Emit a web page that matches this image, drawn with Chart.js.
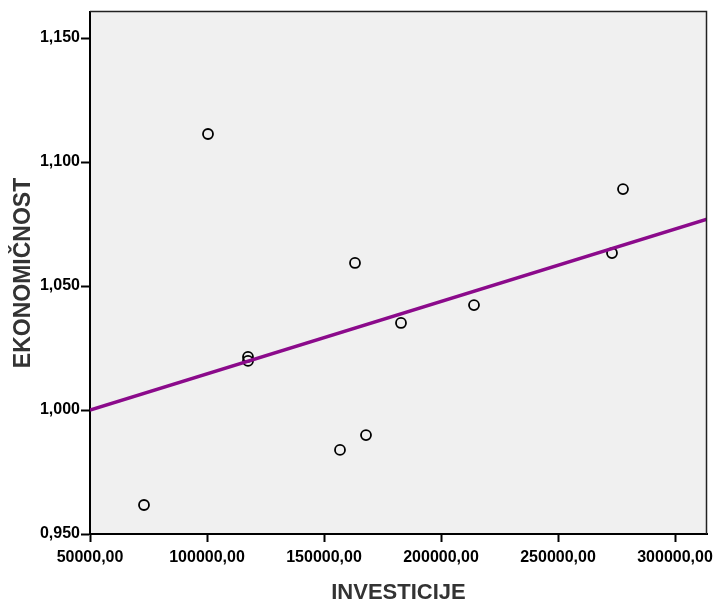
<!DOCTYPE html>
<html>
<head>
<meta charset="utf-8">
<script src="https://cdn.jsdelivr.net/npm/chart.js@4.4.0/dist/chart.umd.min.js"></script>
<style>
  html, body { margin: 0; padding: 0; background: #fff; }
  #wrap { width: 717px; height: 600px; }
</style>
</head>
<body>
<div id="wrap"><canvas id="chart"></canvas></div>
<script>
// values
const investicije = [73077, 100427, 117521, 117521, 156838, 163248, 167949, 182906, 214103, 273077, 277778];
const ekonomicnost = [0.9617, 1.1113, 1.0214, 1.0198, 0.9839, 1.0593, 0.9899, 1.0351, 1.0423, 1.0633, 1.0891];
// fit line ends as seen in the reference
const fitX = [50000, 313675];
const fitY = [1.000, 1.077];
const xTicks = [50000, 100000, 150000, 200000, 250000, 300000];
const yTicks = [0.95, 1.00, 1.05, 1.10, 1.15];

const points = investicije.map((x, i) => ({x: x, y: ekonomicnost[i]}));
const fitLine = fitX.map((x, i) => ({x: x, y: fitY[i]}));

const frame = {
  id: 'frame',
  beforeDraw(chart) {
    const {ctx, chartArea: a} = chart;
    ctx.save();
    ctx.fillStyle = '#f0f0f0';
    ctx.fillRect(a.left, a.top, a.right - a.left, a.bottom - a.top);
    ctx.restore();
  },
  afterDraw(chart) {
    const {ctx, chartArea: a} = chart;
    ctx.save();
    ctx.strokeStyle = '#222';
    ctx.lineWidth = 1.5;
    ctx.beginPath();
    ctx.moveTo(a.left, a.top - 0.5);
    ctx.lineTo(a.right - 0.5, a.top - 0.5);
    ctx.lineTo(a.right - 0.5, a.bottom);
    ctx.stroke();
    ctx.restore();
  }
};

const comma = (v, d) => Number(v).toFixed(d).replace('.', ',');

new Chart(document.getElementById('chart'), {
  type: 'scatter',
  data: {
    datasets: [
      {
        type: 'line',
        data: fitLine,
        borderColor: '#8b0a8b',
        borderWidth: 3.5,
        pointRadius: 0,
        fill: false
      },
      {
        data: points,
        pointStyle: 'circle',
        pointRadius: 5,
        pointHoverRadius: 5,
        borderColor: '#000',
        borderWidth: 1.8,
        backgroundColor: 'rgba(0,0,0,0)'
      }
    ]
  },
  options: {
    responsive: true,
    maintainAspectRatio: false,
    animation: false,
    layout: { padding: { top: 12, right: 10, left: 0, bottom: 0 } },
    plugins: { legend: { display: false }, tooltip: { enabled: false } },
    scales: {
      x: {
        type: 'linear',
        min: 50000,
        max: 313675,
        afterBuildTicks: s => { s.ticks = xTicks.map(v => ({value: v})); },
        afterFit: s => { s.height = 66; s.paddingLeft = 0; s.paddingRight = 0; },
        ticks: {
          color: '#000',
          font: { family: 'Liberation Sans', size: 16, weight: 'bold' },
          padding: 6,
          maxRotation: 0,
          callback: v => comma(v, 2)
        },
        grid: { drawOnChartArea: false, tickLength: 8, tickWidth: 2, tickColor: '#000' },
        border: { display: true, width: 2, color: '#000' },
        title: {
          display: true,
          text: 'INVESTICIJE',
          color: '#333',
          font: { family: 'Liberation Sans', size: 22, weight: 'bold', lineHeight: 1 },
          padding: { top: 0, bottom: -4 }
        }
      },
      y: {
        type: 'linear',
        min: 0.95,
        max: 1.1605,
        afterBuildTicks: s => { s.ticks = yTicks.map(v => ({value: v})); },
        afterFit: s => { s.width = 90; s.paddingTop = 0; s.paddingBottom = 0; },
        ticks: {
          color: '#000',
          font: { family: 'Liberation Sans', size: 16, weight: 'bold' },
          padding: 1,
          callback: v => comma(v, 3)
        },
        grid: { drawOnChartArea: false, tickLength: 9, tickWidth: 2, tickColor: '#000' },
        border: { display: true, width: 2, color: '#000' },
        title: {
          display: true,
          text: 'EKONOMIČNOST',
          color: '#333',
          font: { family: 'Liberation Sans', size: 23, weight: 'bold', lineHeight: 1.2 },
          padding: { top: 10, bottom: 0 }
        }
      }
    }
  },
  plugins: [frame]
});
</script>
</body>
</html>
